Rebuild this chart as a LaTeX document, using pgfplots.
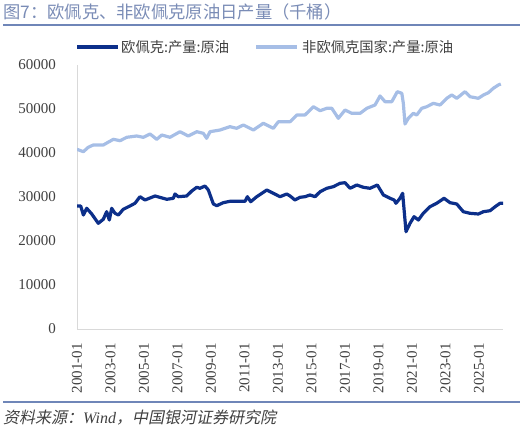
\documentclass[border=0pt]{standalone}
\usepackage{pgfplots}
\pgfplotsset{compat=1.18}
\usepackage{fontspec}
\setmainfont{Liberation Serif}
\newfontfamily\cjk{Noto Sans CJK SC}
\newfontfamily\cjkit[FakeSlant=0.2]{Noto Sans CJK SC}
\definecolor{opec}{HTML}{0C2F8A}
\definecolor{nonopec}{HTML}{A6BEE6}
\definecolor{rule}{HTML}{6F86B8}
\definecolor{titlec}{HTML}{7A8CB6}
\definecolor{axisgray}{HTML}{D9D9D9}
\definecolor{ticktext}{HTML}{404040}
\begin{document}
\begin{tikzpicture}[x=1pt,y=1pt]
\path[use as bounding box] (0,0) rectangle (530,430);
% title
\node[anchor=west,inner sep=0pt,text=titlec] at (3,418.5) {\cjk\fontsize{17.3}{19}\selectfont 图7：欧佩克、非欧佩克原油日产量（千桶）};
\draw[rule,line width=1.6pt] (3,405) -- (520,405);
% legend
\draw[opec,line width=4pt] (77,383) -- (118,383);
\node[anchor=west,inner sep=0pt,text=ticktext] at (121,383) {\cjk\fontsize{14.3}{16}\selectfont 欧佩克:产量:原油};
\draw[nonopec,line width=4pt] (256,383) -- (297,383);
\node[anchor=west,inner sep=0pt,text=ticktext] at (302,383) {\cjk\fontsize{14.3}{16}\selectfont 非欧佩克国家:产量:原油};
% source
\draw[rule,line width=1.6pt] (3,28) -- (520,28);
\node[anchor=west,inner sep=0pt,text=ticktext] at (3,12) {\fontsize{16}{18}\selectfont{\cjkit 资料来源：}\textit{Wind}{\cjkit ，中国银河证券研究院}};
\begin{axis}[
  at={(77pt,101pt)}, anchor=south west,
  scale only axis, width=426pt, height=264pt,
  xmin=2001, xmax=2026.43, ymin=0, ymax=60000,
  axis x line*=bottom, axis y line*=left,
  axis line style={draw=axisgray, line width=0.9pt, -},
  xtick={2001,2003,...,2025},
  xticklabels={2001-01,2003-01,2005-01,2007-01,2009-01,2011-01,2013-01,2015-01,2017-01,2019-01,2021-01,2023-01,2025-01},
  ytick={0,10000,...,60000},
  scaled y ticks=false,
  major tick length=0pt,
  tick label style={font=\fontsize{15}{15}\selectfont, text=ticktext},
  yticklabel style={anchor=east, inner sep=0pt, xshift=-21pt},
  xticklabel style={rotate=90, anchor=east, inner sep=0pt, xshift=-14pt},
  /pgf/number format/.cd, 1000 sep={}, assume math mode=true
]
\addplot[nonopec, line width=3.2pt, line join=round] coordinates {
(2001.00,40841) (2001.38,40295) (2001.67,41295) (2001.97,41818) (2002.57,41818)
(2003.17,43114) (2003.57,42795) (2003.97,43568) (2004.56,43864) (2004.96,43568)
(2005.36,44318) (2005.76,43114) (2006.06,44091) (2006.55,43568) (2007.15,44841)
(2007.64,43864) (2008.15,44841) (2008.54,44477) (2008.74,43341) (2008.94,44841)
(2009.54,45227) (2010.13,45977) (2010.53,45614) (2010.93,46364) (2011.53,45227)
(2012.12,46750) (2012.72,45614) (2013.02,47114) (2013.72,47114) (2014.12,48636)
(2014.61,48636) (2015.11,50523) (2015.51,49614) (2015.91,50159) (2016.21,50159)
(2016.60,47886) (2017.00,49773) (2017.40,49023) (2017.90,49023) (2018.30,50159)
(2018.79,50909) (2019.09,52955) (2019.39,51659) (2019.79,51659) (2020.12,53932)
(2020.39,53568) (2020.48,51295) (2020.58,46591) (2020.78,47886) (2021.08,49023)
(2021.28,48636) (2021.58,50159) (2021.88,50523) (2022.27,51295) (2022.67,50909)
(2023.07,52432) (2023.37,53182) (2023.67,52432) (2024.16,53932) (2024.46,52795)
(2024.96,52432) (2025.26,53182) (2025.56,53705) (2025.85,54705) (2026.15,55455)
(2026.30,55682)
};
\addplot[opec, line width=3.2pt, line join=round] coordinates {
(2001.00,27955) (2001.22,27955) (2001.38,25909) (2001.58,27432) (2001.88,26136)
(2002.27,24023) (2002.57,24932) (2002.77,26659) (2002.93,24773) (2003.07,27432)
(2003.27,26295) (2003.47,25909) (2003.76,27205) (2004.16,27955) (2004.46,28568)
(2004.76,30068) (2005.06,29318) (2005.66,30227) (2006.36,29477) (2006.75,29705)
(2006.85,30682) (2007.05,30068) (2007.55,30227) (2007.85,31364) (2008.15,32205)
(2008.34,31977) (2008.64,32500) (2008.84,31591) (2009.14,28409) (2009.34,28023)
(2009.73,28705) (2010.13,29023) (2011.03,29023) (2011.17,30068) (2011.37,28932)
(2011.73,30068) (2012.33,31591) (2012.72,30841) (2013.12,30068) (2013.52,30682)
(2013.72,30227) (2014.01,29318) (2014.31,29932) (2014.61,30068) (2014.91,30455)
(2015.21,30068) (2015.51,31205) (2015.91,31977) (2016.30,32341) (2016.70,33114)
(2017.00,33250) (2017.30,31977) (2017.70,32727) (2018.09,32205) (2018.49,31977)
(2018.93,32727) (2019.29,30455) (2019.69,29705) (2019.93,29318) (2020.04,28568)
(2020.28,29705) (2020.44,30841) (2020.64,22114) (2020.88,24023) (2021.12,25523)
(2021.38,24773) (2021.67,26295) (2022.07,27795) (2022.47,28568) (2022.91,29705)
(2023.27,28705) (2023.67,28409) (2024.06,26659) (2024.46,26295) (2024.96,26136)
(2025.26,26659) (2025.66,26886) (2025.96,27795) (2026.25,28568) (2026.43,28568)
};
\end{axis}
\end{tikzpicture}
\end{document}
